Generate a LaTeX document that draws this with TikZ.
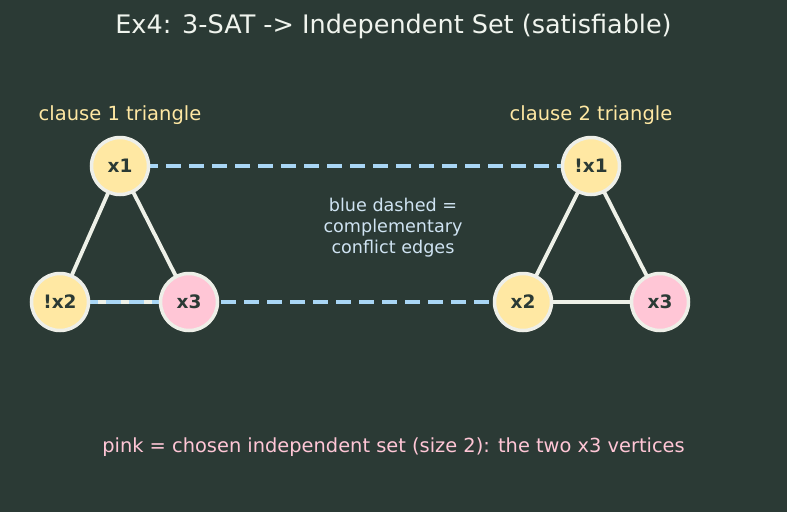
\documentclass[tikz,border=0pt]{standalone}
\usepackage{fontspec}
\setmainfont{DejaVu Sans}
\definecolor{bg}{HTML}{2B3A35}
\definecolor{yel}{HTML}{FFE8A3}
\definecolor{pnk}{HTML}{FFC6D6}
\definecolor{rim}{HTML}{EEEFE8}
\definecolor{edge}{HTML}{EEF1E8}
\definecolor{blu}{HTML}{A9D6F5}
\definecolor{txt}{HTML}{2B3A35}
\definecolor{ttl}{HTML}{F0F4EE}
\definecolor{note}{HTML}{CFE3F2}
\begin{document}
\begin{tikzpicture}[x=1pt,y=-1pt,
  vtx/.style={circle,draw=rim,line width=3.5pt,minimum size=57pt,inner sep=0pt,font=\fontsize{18.5}{20}\selectfont\bfseries,text=txt},
  yv/.style={vtx,fill=yel},
  pv/.style={vtx,fill=pnk},
  solid edge/.style={draw=edge,line width=3.8pt},
  conflict/.style={draw=blu,line width=3.8pt,dash pattern=on 15pt off 8pt}]
\fill[bg] (0,0) rectangle (787,512);
\useasboundingbox (0,0) rectangle (787,512);
\node[text=ttl,font=\fontsize{25.5}{30}\selectfont] (title) at (393.5,26) {Ex4: 3-SAT -> Independent Set (satisfiable)};
\node[text=yel,font=\fontsize{19.5}{22}\selectfont] (c1) at (120,115.5) {clause 1 triangle};
\node[text=yel,font=\fontsize{19.5}{22}\selectfont] (c2) at (591,115.5) {clause 2 triangle};
\node[text=note,font=\fontsize{17.6}{21}\selectfont,align=center] (mid) at (393,227.5) {blue dashed =\\complementary\\conflict edges};
\node[text=pnk,font=\fontsize{19.4}{22}\selectfont] (foot) at (393.5,447.5) {pink = chosen independent set (size 2): the two x3 vertices};
% coordinates for vertices
\coordinate (pa) at (120,166);
\coordinate (pb) at (60,302);
\coordinate (pc) at (189,302);
\coordinate (pd) at (591,166);
\coordinate (pe) at (523,302);
\coordinate (pf) at (660,302);
\draw[solid edge] (pa) -- (pb);
\draw[solid edge] (pa) -- (pc);
\draw[solid edge] (pb) -- (pc);
\draw[solid edge] (pd) -- (pe);
\draw[solid edge] (pd) -- (pf);
\draw[solid edge] (pe) -- (pf);
\draw[conflict] (pa) -- (pd);
\draw[conflict] (pb) -- (pe);
\node[yv] (a) at (pa) {x1};
\node[yv] (b) at (pb) {!x2};
\node[pv] (c) at (pc) {x3};
\node[yv] (d) at (pd) {!x1};
\node[yv] (e) at (pe) {x2};
\node[pv] (f) at (pf) {x3};
\end{tikzpicture}
\end{document}
